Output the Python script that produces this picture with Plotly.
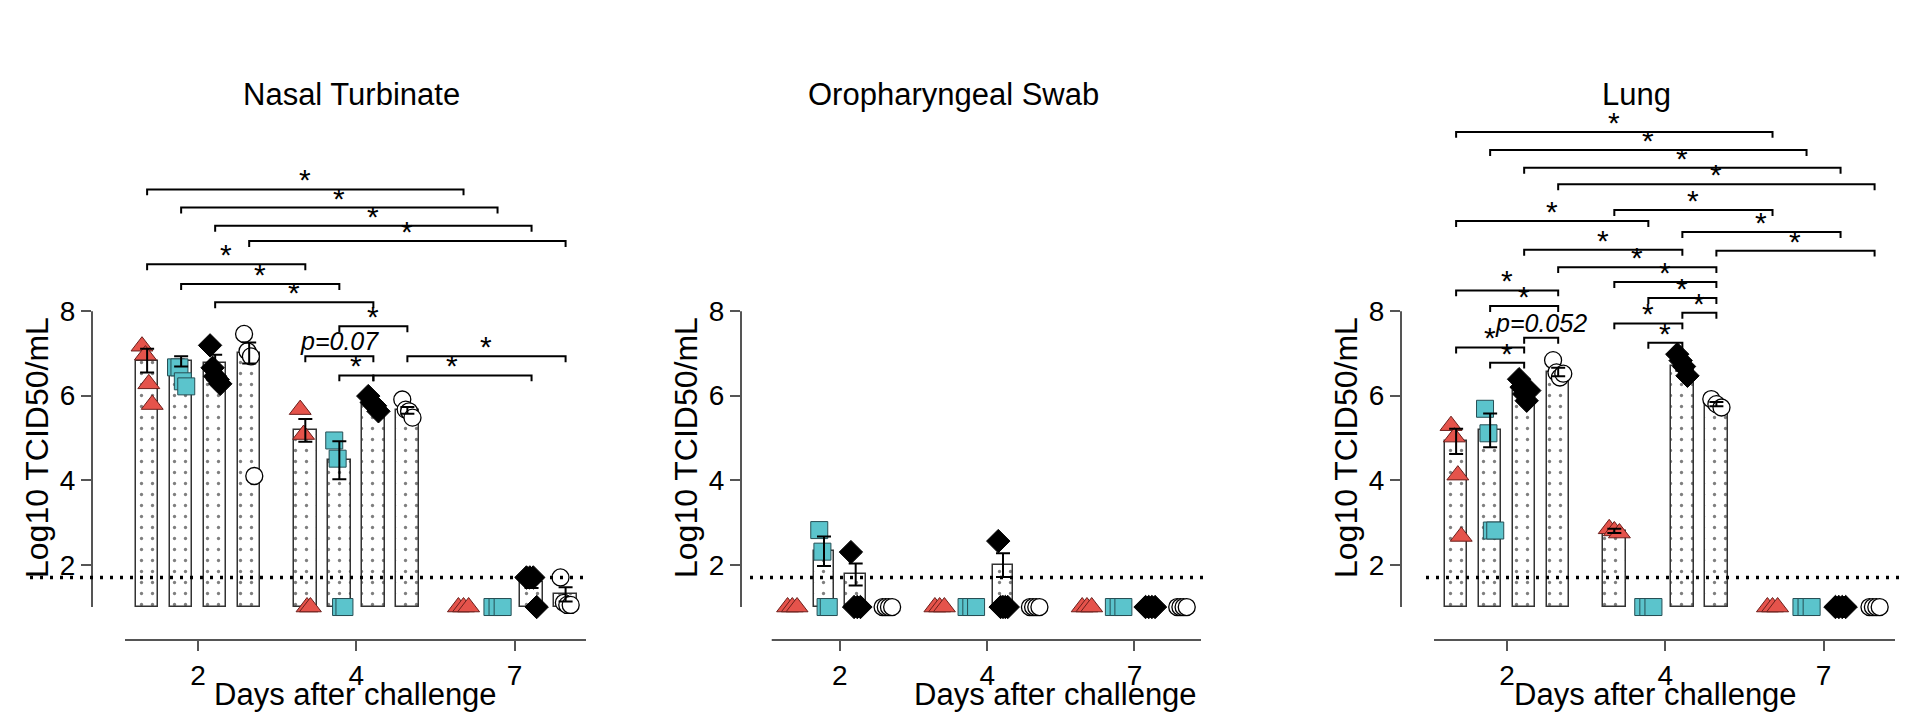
import numpy as np
import plotly.graph_objects as go
from plotly.subplots import make_subplots

# per tissue: rows = day (2, 4, 7), columns = group
days = ['2', '4', '7']
titles = ['Nasal Turbinate', 'Oropharyngeal Swab', 'Lung']

nt_means = [[6.83, 6.81, 6.77, 7.01], [5.18, 4.47, 5.79, 5.65], [1, 1, 1.6, 1.3]]
nt_sem = [[0.28, 0.12, 0.2, 0.25], [0.27, 0.45, 0.08, 0.08], [0, 0, 0.15, 0.17]]
nt_points = [
    [[7.17, 6.96, 6.28, 5.79], [6.67, 6.67, 6.34, 6.22], [7.19, 6.66, 6.46, 6.38, 6.28], [7.46, 7.05, 6.93, 4.1]],
    [[5.67, 5.08, 1, 1], [4.94, 4.51, 1, 1], [5.99, 5.84, 5.76, 5.63], [5.91, 5.67, 5.63, 5.48]],
    [[1, 1, 1], [1, 1, 1], [1.7, 1.7, 1.7, 1.0], [1.7, 1.1, 1.05, 1.05]],
]

op_means = [[1, 2.32, 1.77, 1], [1, 1, 1.99, 1], [1, 1, 1, 1]]
op_sem = [[0, 0.35, 0.26, 0], [0, 0, 0.28, 0], [0, 0, 0, 0]]
op_points = [
    [[1, 1, 1], [2.82, 2.31, 1, 1], [2.3, 1, 1, 1], [1, 1, 1, 1]],
    [[1, 1, 1], [1, 1, 1], [2.56, 1, 1, 1, 1], [1, 1, 1, 1]],
    [[1, 1, 1], [1, 1, 1], [1, 1, 1, 1], [1, 1, 1, 1]],
]

lu_means = [[4.92, 5.18, 6.12, 6.56], [2.8, 1, 6.71, 5.8], [1, 1, 1, 1]]
lu_sem = [[0.3, 0.4, 0.1, 0.1], [0.05, 0, 0.12, 0.05], [0, 0, 0, 0]]
lu_points = [
    [[5.29, 5.02, 4.12, 2.67], [5.69, 5.11, 2.81, 2.81], [6.39, 6.2, 6.04, 5.88, 6.12], [6.84, 6.55, 6.43, 6.52]],
    [[2.85, 2.8, 2.75], [1, 1, 1], [6.98, 6.83, 6.69, 6.47], [5.92, 5.8, 5.72]],
    [[1, 1, 1], [1, 1, 1], [1, 1, 1, 1], [1, 1, 1, 1]],
]

# brackets: (bar from, bar to, height, label); bars numbered day*4 + group
nt_brackets = [(0, 8, 10.88, '*'), (1, 9, 10.45, '*'), (2, 10, 10.02, '*'), (3, 11, 9.66, '*'),
               (0, 4, 9.11, '*'), (1, 5, 8.64, '*'), (2, 6, 8.21, '*'), (5, 7, 7.64, '*'),
               (4, 6, 6.93, 'p=0.07'), (5, 6, 6.48, '*'), (6, 10, 6.48, '*'), (7, 11, 6.93, '*')]
op_brackets = []
lu_brackets = [(0, 8, 12.24, '*'), (1, 9, 11.81, '*'), (2, 10, 11.39, '*'), (3, 11, 11.0, '*'),
               (4, 8, 10.39, '*'), (0, 5, 10.13, '*'), (6, 10, 9.87, '*'), (2, 6, 9.45, '*'),
               (7, 11, 9.43, '*'), (3, 7, 9.04, '*'), (4, 7, 8.69, '*'), (5, 7, 8.31, '*'),
               (6, 7, 7.96, '*'), (4, 6, 7.71, '*'), (5, 6, 7.25, '*'), (0, 3, 8.49, '*'),
               (1, 3, 8.12, '*'), (2, 3, 7.37, 'p=0.052'), (0, 2, 7.14, '*'), (1, 2, 6.78, '*')]

lod = 1.7

panels = [(nt_means, nt_sem, nt_points, nt_brackets),
          (op_means, op_sem, op_points, op_brackets),
          (lu_means, lu_sem, lu_points, lu_brackets)]

styles = [dict(symbol='triangle-up', color='#E5534B', line=dict(color='#6b1f1c', width=1), size=19),
          dict(symbol='square', color='#5BC4CC', line=dict(color='#264f55', width=1), size=17),
          dict(symbol='diamond', color='black', line=dict(color='black', width=1), size=18),
          dict(symbol='circle', color='white', line=dict(color='black', width=1.3), size=17)]

GAP = 4.65
FONT = 'Liberation Sans, Arial, sans-serif'
W, H = 1920, 720
domains = [(84, 578), (733, 1193), (1393, 1887)]
lod_px = [(22, 578), (742, 1195), (1418, 1891)]


def bx(i):
    return (i // 4) * GAP + i % 4


fig = make_subplots(rows=1, cols=3)

for p, (means, sem, points, brackets) in enumerate(panels):
    col = p + 1
    bar_x, bar_h, err_x, err_y, err_v = [], [], [], [], []
    for d in range(3):
        for g in range(4):
            x = bx(d * 4 + g)
            if means[d][g] > 1.001:
                bar_x.append(x)
                bar_h.append(means[d][g] - 1)
            if sem[d][g] > 0:
                err_x.append(x)
                err_y.append(means[d][g])
                err_v.append(sem[d][g])
    fig.add_trace(go.Bar(x=bar_x, y=bar_h, base=1, width=0.66,
                         marker=dict(color='white', line=dict(color='#333', width=1.5),
                                     pattern=dict(shape='.', fgcolor='black', bgcolor='white',
                                                  size=11, solidity=0.07)),
                         showlegend=False), row=1, col=col)
    for g in range(4):
        xs, ys = [], []
        for d in range(3):
            vals = points[d][g]
            offs = np.linspace(-0.15, 0.15, len(vals))
            xs += list(bx(d * 4 + g) + offs)
            ys += vals
        fig.add_trace(go.Scatter(x=xs, y=ys, mode='markers', marker=styles[g],
                                 showlegend=False, cliponaxis=False), row=1, col=col)
    fig.add_trace(go.Scatter(x=err_x, y=err_y, mode='markers', marker=dict(size=0.1, color='black'),
                             error_y=dict(type='data', array=err_v, color='black', thickness=2, width=7),
                             showlegend=False), row=1, col=col)

    xa = 'x' if p == 0 else f'x{col}'
    ya = 'y' if p == 0 else f'y{col}'
    for (i, j, yv, lab) in brackets:
        x0, x1 = bx(i), bx(j)
        fig.add_shape(type='path', xref=xa, yref=ya,
                      path=f'M {x0},{yv - 0.14} L {x0},{yv} L {x1},{yv} L {x1},{yv - 0.14}',
                      line=dict(color='black', width=2))
        italic = lab != '*'
        fig.add_annotation(x=(x0 + x1) / 2, y=yv, xref=xa, yref=ya, text=lab, showarrow=False,
                           xanchor='center', yanchor='bottom', yshift=-9 if not italic else -1,
                           font=dict(size=30 if not italic else 25, family=FONT, color='black',
                                     style='italic' if italic else 'normal'))
    # axis lines
    fig.add_shape(type='line', xref=f'{xa} domain', yref=ya, x0=0, x1=0, y0=1, y1=8,
                  line=dict(color='#555', width=2))
    fig.add_shape(type='line', xref=xa, yref=f'{ya} domain', x0=-0.65, x1=12.95, y0=0, y1=0,
                  line=dict(color='#555', width=2))
    fig.add_shape(type='line', xref='paper', yref=ya, x0=lod_px[p][0] / W, x1=lod_px[p][1] / W,
                  y0=lod, y1=lod, line=dict(color='black', width=3.5, dash='3px,7px'))

    d0, d1 = domains[p]
    fig.update_xaxes(domain=[d0 / W, d1 / W], range=[-1.62, 12.9], showline=False, showgrid=False,
                     zeroline=False, ticks='outside', ticklen=10, tickwidth=2, tickcolor='#555',
                     automargin=False,
                     tickvals=[1.5, 1.5 + GAP, 1.5 + 2 * GAP], ticktext=days,
                     tickfont=dict(size=28, family=FONT, color='black'), row=1, col=col)
    fig.update_yaxes(domain=[1 - 632 / H, 1 - 96 / H], range=[0.22, 12.9], showline=False,
                     showgrid=False, zeroline=False, ticks='outside', ticklen=10, tickwidth=2,
                     automargin=False,
                     tickcolor='#555', tickvals=[2, 4, 6, 8],
                     tickfont=dict(size=28, family=FONT, color='black'), row=1, col=col)

title_x = [343, 945, 1628]
ytitle_x = [29, 678, 1338]
xtitle_x = [347, 1047, 1647]
for p in range(3):
    fig.add_annotation(x=title_x[p] / W, y=1 - 86 / H, xref='paper', yref='paper', text=titles[p],
                       xanchor='center', yanchor='middle',
                       showarrow=False, font=dict(size=31, family=FONT, color='black'))
    fig.add_annotation(x=ytitle_x[p] / W, y=1 - 440 / H, xref='paper', yref='paper',
                       xanchor='center', yanchor='middle',
                       text='Log10 TCID50/mL', textangle=-90, showarrow=False,
                       font=dict(size=32, family=FONT, color='black'))
    fig.add_annotation(x=xtitle_x[p] / W, y=1 - 686 / H, xref='paper', yref='paper',
                       xanchor='center', yanchor='middle',
                       text='Days after challenge', showarrow=False,
                       font=dict(size=31, family=FONT, color='black'))

fig.update_layout(width=W, height=H, margin=dict(l=0, r=0, t=0, b=0, autoexpand=False),
                  plot_bgcolor='white', paper_bgcolor='white', bargap=0)

fig.write_html('out.html')
